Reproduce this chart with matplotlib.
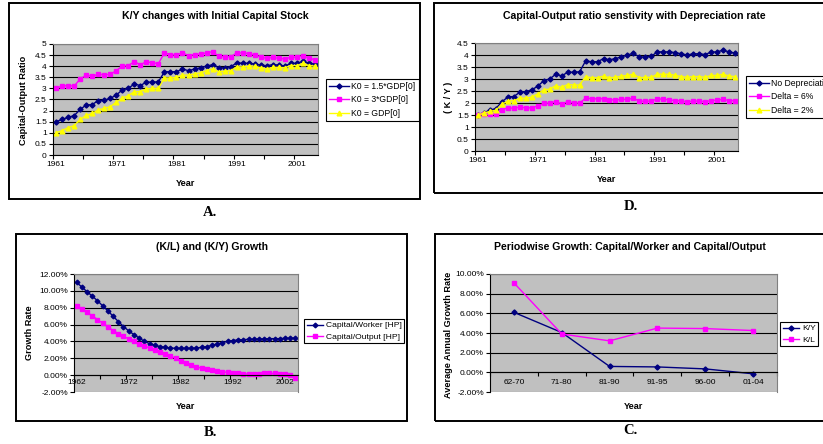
import numpy as np
import matplotlib
matplotlib.use('Agg')
import matplotlib.pyplot as plt
from matplotlib.patches import Rectangle
from matplotlib.ticker import FuncFormatter

plt.rcParams['font.family'] = ['Liberation Sans', 'DejaVu Sans']

# ---------------- data ----------------
years_a = list(range(1961, 2005))
ky_k15 = [1.5, 1.6, 1.7, 1.77, 2.05, 2.25, 2.27, 2.45, 2.47, 2.55, 2.7, 2.93, 3.0, 3.2, 3.13, 3.28,
          3.28, 3.3, 3.75, 3.75, 3.75, 3.87, 3.8, 3.87, 3.93, 4.0, 4.07, 3.93, 3.93, 3.97, 4.15, 4.13,
          4.13, 4.1, 4.05, 4.02, 4.07, 4.05, 4.0, 4.13, 4.13, 4.22, 4.13, 4.1]
ky_k3 = [3.0, 3.1, 3.13, 3.1, 3.42, 3.6, 3.55, 3.63, 3.62, 3.63, 3.8, 4.0, 4.03, 4.2, 4.07, 4.2,
         4.15, 4.12, 4.6, 4.52, 4.5, 4.6, 4.48, 4.52, 4.55, 4.6, 4.65, 4.45, 4.42, 4.42, 4.6, 4.6,
         4.57, 4.5, 4.42, 4.35, 4.4, 4.35, 4.33, 4.4, 4.4, 4.48, 4.35, 4.3]
ky_k1 = [1.0, 1.1, 1.23, 1.32, 1.6, 1.78, 1.87, 2.03, 2.1, 2.18, 2.37, 2.57, 2.67, 2.85, 2.85, 2.98,
         3.0, 3.0, 3.47, 3.47, 3.5, 3.6, 3.6, 3.65, 3.7, 3.8, 3.88, 3.75, 3.77, 3.8, 3.97, 3.97,
         4.0, 4.0, 3.93, 3.88, 3.95, 3.95, 3.93, 4.03, 4.03, 4.13, 4.03, 4.0]

ky_nodep = [1.5, 1.6, 1.7, 1.77, 2.05, 2.25, 2.27, 2.45, 2.47, 2.55, 2.7, 2.93, 3.0, 3.2, 3.13, 3.28,
            3.28, 3.3, 3.75, 3.72, 3.72, 3.85, 3.8, 3.85, 3.92, 4.0, 4.07, 3.92, 3.92, 3.95, 4.13, 4.13,
            4.13, 4.1, 4.05, 4.0, 4.05, 4.05, 4.02, 4.12, 4.13, 4.2, 4.13, 4.08]
ky_d6 = [1.5, 1.55, 1.55, 1.55, 1.72, 1.8, 1.78, 1.83, 1.8, 1.8, 1.88, 1.98, 2.0, 2.05, 1.97, 2.05,
         2.0, 2.0, 2.2, 2.18, 2.17, 2.18, 2.13, 2.13, 2.15, 2.15, 2.2, 2.07, 2.08, 2.07, 2.18, 2.15,
         2.13, 2.1, 2.08, 2.05, 2.08, 2.08, 2.05, 2.1, 2.12, 2.15, 2.1, 2.1]
ky_d2 = [1.5, 1.58, 1.65, 1.7, 1.95, 2.08, 2.1, 2.2, 2.2, 2.25, 2.38, 2.55, 2.58, 2.72, 2.65, 2.77,
         2.75, 2.75, 3.1, 3.05, 3.05, 3.12, 3.05, 3.07, 3.12, 3.15, 3.2, 3.05, 3.07, 3.07, 3.2, 3.2,
         3.2, 3.15, 3.1, 3.07, 3.1, 3.1, 3.07, 3.15, 3.15, 3.2, 3.12, 3.1]

years_b = list(range(1962, 2005))
g_kl = [11.0, 10.46, 9.9, 9.38, 8.83, 8.23, 7.63, 7.0, 6.36, 5.77, 5.25, 4.81, 4.41, 4.02, 3.74,
        3.54, 3.38, 3.3, 3.22, 3.18, 3.18, 3.18, 3.18, 3.22, 3.3, 3.38, 3.54, 3.7, 3.86, 4.02, 4.1,
        4.18, 4.21, 4.25, 4.25, 4.29, 4.29, 4.33, 4.33, 4.33, 4.37, 4.37, 4.41]
g_ky = [8.23, 7.83, 7.44, 7.04, 6.6, 6.16, 5.73, 5.29, 4.93, 4.61, 4.29, 4.02, 3.74, 3.46, 3.22,
        2.98, 2.74, 2.5, 2.27, 1.99, 1.71, 1.43, 1.19, 0.99, 0.83, 0.68, 0.56, 0.48, 0.4, 0.32, 0.28,
        0.2, 0.16, 0.12, 0.12, 0.16, 0.2, 0.2, 0.2, 0.16, 0.08, -0.04, -0.28]

periods = ['62-70', '71-80', '81-90', '91-95', '96-00', '01-04']
p_ky = [6.1, 4.05, 0.6, 0.55, 0.35, -0.15]
p_kl = [9.1, 3.9, 3.2, 4.5, 4.45, 4.25]

NAVY = '#000080'
MAG = '#FF00FF'
YEL = '#FFFF00'
GRAY = '#C0C0C0'

W, H = 823, 444
fig = plt.figure(figsize=(W / 100, H / 100), dpi=100)


def fx(x):
    return x / W


def fy(y):
    return 1 - y / H


def add_box(x0, y0, x1, y1):
    fig.patches.append(Rectangle((fx(x0), fy(y1)), (x1 - x0) / W, (y1 - y0) / H,
                                 transform=fig.transFigure, fill=False, ec='black', lw=1.4))


def add_ax(x0, y0, x1, y1):
    return fig.add_axes([fx(x0), fy(y1), (x1 - x0) / W, (y1 - y0) / H])


def ftext(x, y, s, **kw):
    fig.text(fx(x), fy(y), s, ha='center', va='center', **kw)


def style(ax, ylim, ystep, fmt, ncat, tick_every, label_idx, labels, zero_axis=False):
    ax.set_facecolor(GRAY)
    ax.set_xlim(-0.5, ncat - 0.5)
    ax.set_ylim(*ylim)
    yt = np.arange(ylim[0], ylim[1] + ystep / 2, ystep)
    ax.set_yticks(yt)
    ax.yaxis.set_major_formatter(FuncFormatter(fmt))
    ax.grid(axis='y', color='black', lw=0.8)
    ax.set_axisbelow(True)
    ax.set_xticks(np.arange(-0.5, ncat, tick_every))
    ax.set_xticklabels([])
    ax.set_xticks(label_idx, minor=True)
    ax.set_xticklabels(labels, minor=True)
    ax.tick_params(axis='x', which='minor', length=0, labelsize=6, pad=4)
    ax.tick_params(axis='x', which='major', length=3, direction='out', width=0.8)
    ax.tick_params(axis='y', length=3, direction='out', width=0.8, labelsize=6, pad=1.5)
    for s in ['top', 'right']:
        ax.spines[s].set_color('#808080')
        ax.spines[s].set_linewidth(0.8)
    for s in ['left', 'bottom']:
        ax.spines[s].set_color('black')
        ax.spines[s].set_linewidth(0.8)
    if zero_axis:
        ax.spines['bottom'].set_position(('data', 0))
        gl = ax.get_ygridlines()
        gl[0].set_color('#808080')


def legend(ax, handles, x, y, fs=6.2, hl=2.3, ls=0.55, bp=0.35):
    lg = ax.legend(handles=handles, loc='upper left', bbox_to_anchor=(fx(x), fy(y)),
                   bbox_transform=fig.transFigure, borderaxespad=0, fontsize=fs,
                   frameon=True, fancybox=False, framealpha=1, edgecolor='black',
                   handlelength=hl, handletextpad=0.3, borderpad=bp, labelspacing=ls)
    lg.get_frame().set_linewidth(0.8)


dec = lambda v, p: ('%g' % round(v, 2))
pct = lambda v, p: '%.2f%%' % v

# ---------------- Panel A ----------------
add_box(9, 3, 420, 199)
axA = add_ax(53, 44, 318, 155)
xa = np.arange(len(years_a))
lA1, = axA.plot(xa, ky_k15, color=NAVY, lw=1.0, marker='D', ms=2.6, label='K0 = 1.5*GDP[0]')
lA2, = axA.plot(xa, ky_k3, color=MAG, lw=1.0, marker='s', ms=3.0, label='K0 = 3*GDP[0]')
lA3, = axA.plot(xa, ky_k1, color=YEL, lw=1.0, marker='^', ms=3.4, label='K0 = GDP[0]')
style(axA, (0, 5), 0.5, dec, len(years_a), 5, [0, 10, 20, 30, 40],
      [str(years_a[i]) for i in [0, 10, 20, 30, 40]])
legend(axA, [lA1, lA2, lA3], 326, 79, fs=6.2, hl=2.3, ls=0.5)
ftext(215, 16, 'K/Y changes with Initial Capital Stock', fontsize=7.6, fontweight='bold')
ftext(186, 183, 'Year', fontsize=6.6, fontweight='bold')
ftext(24, 100, 'Capital-Output Ratio', fontsize=6.6, fontweight='bold', rotation=90)
ftext(210, 212, 'A.', fontsize=10.5, fontweight='bold', family='Liberation Serif')

# ---------------- Panel D ----------------
add_box(434, 3, 840, 193)
axD = add_ax(475, 43, 738, 151)
lD1, = axD.plot(xa, ky_nodep, color=NAVY, lw=1.0, marker='D', ms=2.6, label='No Depreciation')
lD2, = axD.plot(xa, ky_d6, color=MAG, lw=1.0, marker='s', ms=3.0, label='Delta = 6%')
lD3, = axD.plot(xa, ky_d2, color=YEL, lw=1.0, marker='^', ms=3.4, label='Delta = 2%')
style(axD, (0, 4.5), 0.5, dec, len(years_a), 5, [0, 10, 20, 30, 40],
      [str(years_a[i]) for i in [0, 10, 20, 30, 40]])
legend(axD, [lD1, lD2, lD3], 746, 76, fs=6.2, hl=2.3, ls=0.5)
ftext(634, 16, 'Capital-Output ratio senstivity with Depreciation rate', fontsize=7.6, fontweight='bold')
ftext(607, 179, 'Year', fontsize=6.6, fontweight='bold')
ftext(449, 97, '( K / Y )', fontsize=6.6, fontweight='bold', rotation=90)
ftext(631, 206, 'D.', fontsize=10.5, fontweight='bold', family='Liberation Serif')

# ---------------- Panel B ----------------
add_box(16, 234, 407, 421)
axB = add_ax(74, 274, 298, 392)
xb = np.arange(len(years_b))
lB1, = axB.plot(xb, g_kl, color=NAVY, lw=1.0, marker='D', ms=2.4, label='Capital/Worker [HP]')
lB2, = axB.plot(xb, g_ky, color=MAG, lw=1.0, marker='s', ms=2.8, label='Capital/Output [HP]')
style(axB, (-2, 12), 2, pct, len(years_b), 5, [0, 10, 20, 30, 40],
      [str(years_b[i]) for i in [0, 10, 20, 30, 40]], zero_axis=True)
axB.tick_params(axis='x', which='minor', pad=3)
legend(axB, [lB1, lB2], 304, 319, fs=6.1, hl=2.0, ls=0.4, bp=0.3)
ftext(212, 247, '(K/L) and (K/Y) Growth', fontsize=7.6, fontweight='bold')
ftext(186, 406, 'Year', fontsize=6.6, fontweight='bold')
ftext(30, 333, 'Growth Rate', fontsize=6.6, fontweight='bold', rotation=90)
ftext(210, 432, 'B.', fontsize=10.5, fontweight='bold', family='Liberation Serif')

# ---------------- Panel C ----------------
add_box(435, 234, 840, 421)
axC = add_ax(490, 274, 777, 392)
xc = np.arange(len(periods))
lC1, = axC.plot(xc, p_ky, color=NAVY, lw=1.0, marker='D', ms=2.6, label='K/Y')
lC2, = axC.plot(xc, p_kl, color=MAG, lw=1.0, marker='s', ms=3.0, label='K/L')
style(axC, (-2, 10), 2, pct, len(periods), 1, list(xc), periods, zero_axis=True)
axC.tick_params(axis='x', which='minor', pad=5)
legend(axC, [lC1, lC2], 780, 322, fs=6.1, hl=2.0, ls=0.4, bp=0.3)
ftext(630, 247, 'Periodwise Growth: Capital/Worker and Capital/Output', fontsize=7.6, fontweight='bold')
ftext(634, 406, 'Year', fontsize=6.6, fontweight='bold')
ftext(449, 335, 'Average Annual Growth Rate', fontsize=6.6, fontweight='bold', rotation=90)
ftext(630, 430, 'C.', fontsize=10.5, fontweight='bold', family='Liberation Serif')

fig.savefig('out.png', dpi=100, facecolor='white')
